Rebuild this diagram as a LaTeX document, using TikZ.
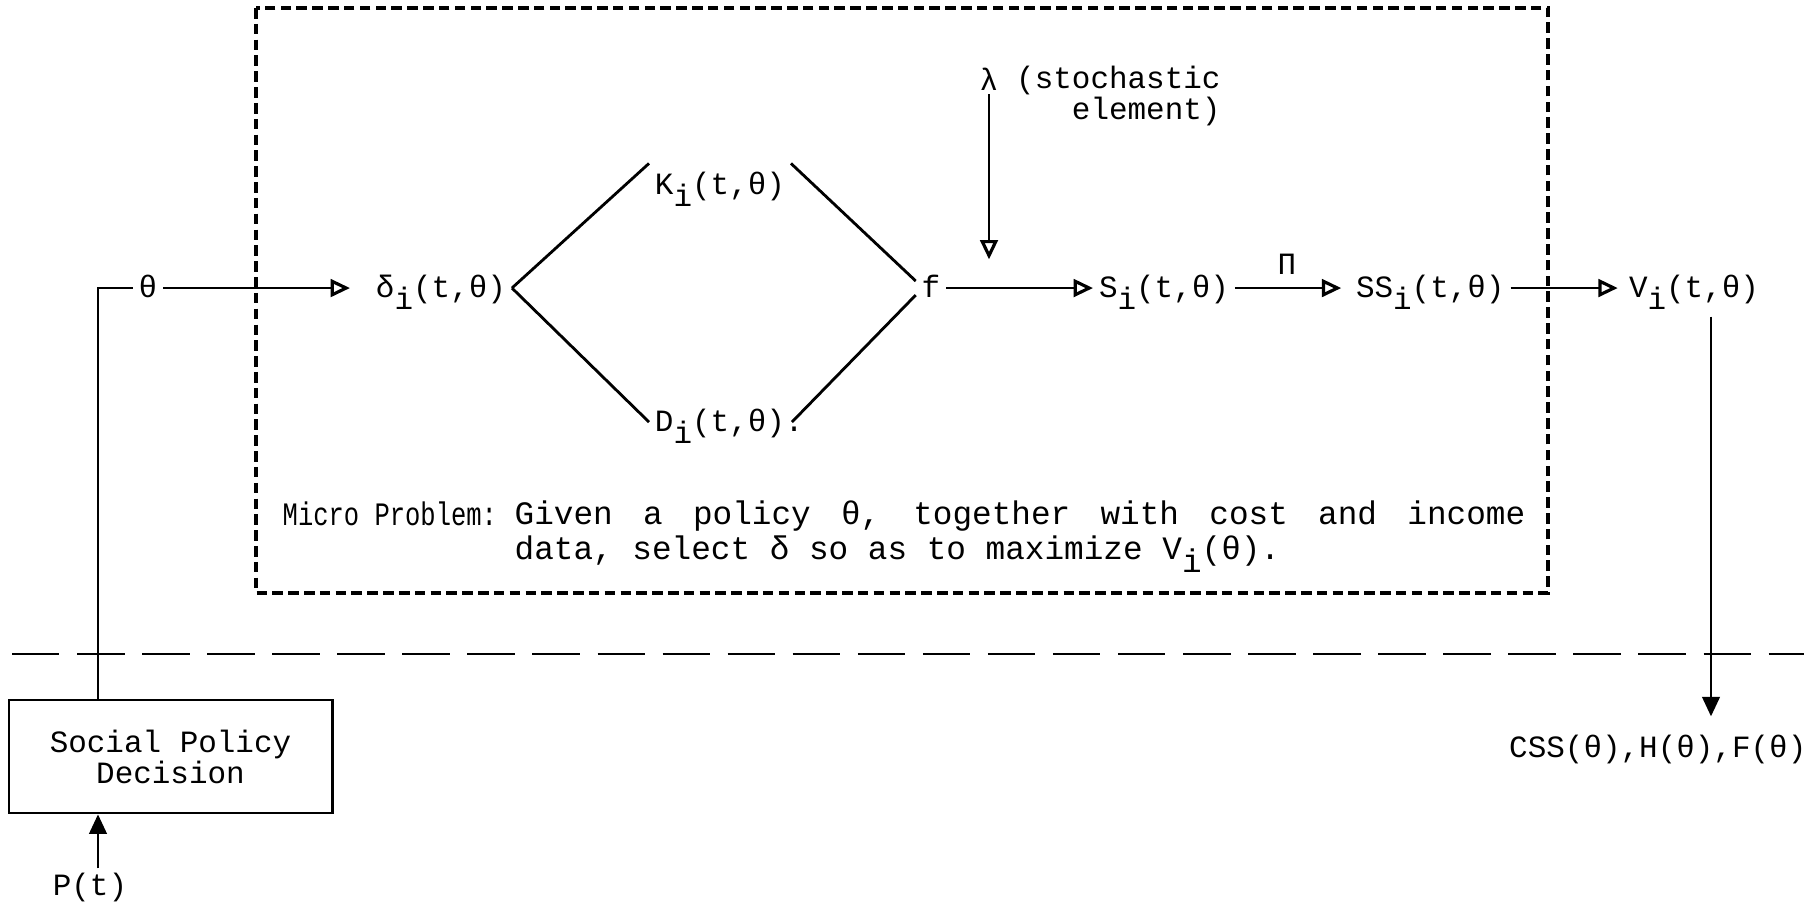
\documentclass[tikz,border=0pt]{standalone}
\usepackage{fontspec}
\setmainfont{Liberation Mono}
\usetikzlibrary{arrows.meta}
\newcommand{\subi}{\raisebox{-0.4em}{i}}
\newcommand{\fuentemicro}{\fontsize{9.3}{9.9}\selectfont\fontdimen3\font=12pt\relax}

\begin{document}
\begin{tikzpicture}[x=0.01cm,y=-0.01cm,
        lbl/.style={font=\fontsize{8.8}{8.8}\selectfont, inner sep=1pt},
        fila/.style={lbl, text height=7.5pt, text depth=2.4pt, inner xsep=1.5pt},
        flecha/.style={-{Triangle[open,length=5.5pt,width=5pt,line width=0.9pt]}, semithick},
        flechallena/.style={-{Triangle[length=5.5pt,width=5pt]}, semithick},
        micro/.style={font=\fuentemicro, inner sep=0pt}]
        \useasboundingbox (0,0) rectangle (1813,903);

        % caja micro problema
        \draw[line width=0.9pt, dash pattern=on 3pt off 1.5pt] (256,8) rectangle (1548,593);
        % linea larga
        \draw[line width=0.7pt, dash pattern=on 13.5pt off 5pt] (12,654) -- (1804,654);

        % fila principal
        \node[fila, anchor=base] (theta) at (148,297) {θ};
        \node[fila, anchor=base west] (delta) at (370,297) {δ\subi(t,θ)};
        \node[fila, anchor=base west] (kap) at (649,194) {K\subi(t,θ)};
        \node[fila, anchor=base west] (dee) at (649,431) {D\subi(t,θ).};
        \node[fila, anchor=base] (eff) at (931,297) {f};
        \node[fila, anchor=base west] (ess) at (1093,297) {S\subi(t,θ)};
        \node[lbl, anchor=base] (pi) at (1287,274) {Π};
        \node[fila, anchor=base west] (sss) at (1350,297) {SS\subi(t,θ)};
        \node[fila, anchor=base west] (vee) at (1623,297) {V\subi(t,θ)};
        \node[lbl, anchor=base] (lam) at (989,90) {λ};
        \node[lbl, anchor=north west, align=right] (stoch) at (1012,62) {(stochastic\\element)};
        \node[lbl, anchor=base west] (css) at (1505,757) {CSS(θ),H(θ),F(θ)};

        % decision social
        \node[lbl, draw, thick, minimum width=3.23cm, minimum height=1.13cm, align=center] (spd) at (170.5,756.5) {Social Policy\\Decision};
        \node[lbl, anchor=base] (pee) at (90,895) {P(t)};
        \coordinate (tronco) at (98,700);

        % texto
        \node[micro, anchor=base west] (mp) at (282,525) {\scalebox{0.78}[1]{Micro Problem:}};
        \node[micro, anchor=north west, text width=10.1cm, align=justify] (given) at (514,500) {Given a policy θ, together with cost and income\linebreak data, select δ so as to maximize V\subi(θ).};

        % conexiones
        \draw[semithick] (tronco) |- (theta.west);
        \draw[flecha, shorten >=5.7pt] (theta.east) -- (delta.west);
        \draw[thick] (delta.east) -- (kap.north west);
        \draw[thick] (delta.east) -- (dee.west);
        \draw[thick] (kap.north east) -- ([yshift=2pt]eff.west);
        \draw[thick] ([xshift=-0.5em]dee.east) -- ([yshift=-2pt]eff.west);
        \draw[flecha] (eff.east) -- (ess.west);
        \draw[flecha, shorten >=2.5pt] (ess.east) -- (sss.west);
        \draw[flecha, shorten >=1.5pt] (sss.east) -- (vee.west);
        \draw[flecha, shorten >=2pt] (lam.south) -- (lam.south |- eff.north);
        \draw[flechallena, shorten <=2pt, shorten >=4pt] ([xshift=0.17cm]vee.south) -- ([xshift=0.17cm]vee.south |- css.north);
        \draw[flechallena] (pee.north -| tronco) -- (spd.south -| tronco);
    \end{tikzpicture}
\end{document}
